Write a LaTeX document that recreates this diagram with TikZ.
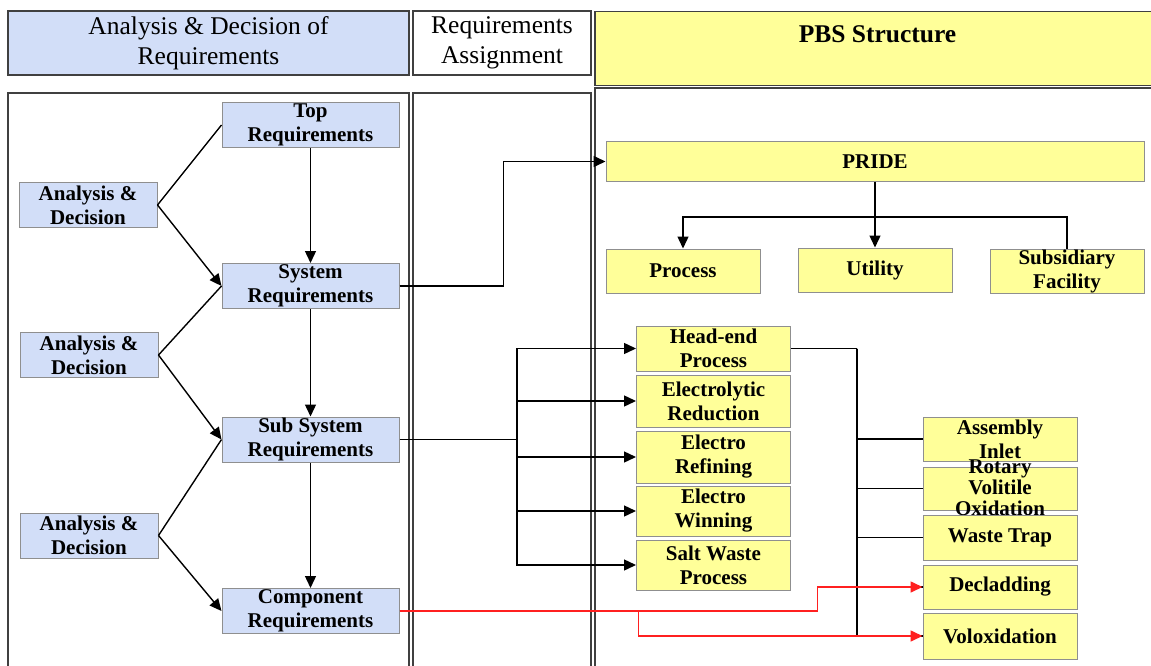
\documentclass[tikz,border=0pt]{standalone}
\usepackage{fontspec}
\setmainfont{Liberation Serif}
\usepackage{xcolor}
\definecolor{ReqBlue}{HTML}{D2DEF8}
\definecolor{PbsYellow}{HTML}{FFFF99}
\definecolor{BoxGray}{HTML}{8F8F8F}
\definecolor{HeadGray}{HTML}{404040}
\definecolor{LinkRed}{HTML}{FF2020}
\usetikzlibrary{arrows.meta}
\newcommand{\boxfont}{\fontsize{21}{24}\selectfont\bfseries}
\newcommand{\headfont}{\fontsize{25.5}{30}\selectfont}
\tikzset{
  headbox/.style={
    draw=HeadGray,
    line width=1.3pt,
    inner sep=0pt,
    align=center,
    font=\headfont
  },
  panelbox/.style={
    draw=HeadGray,
    line width=1.3pt
  },
  reqbox/.style={
    draw=BoxGray,
    fill=ReqBlue,
    line width=1pt,
    minimum width=177pt,
    minimum height=45pt,
    inner sep=0pt,
    align=center,
    font=\boxfont
  },
  adbox/.style={
    reqbox,
    minimum width=138pt
  },
  pbsbox/.style={
    draw=BoxGray,
    fill=PbsYellow,
    line width=1pt,
    minimum width=154pt,
    minimum height=44pt,
    inner sep=0pt,
    align=center,
    font=\boxfont
  },
  flowline/.style={
    draw=black,
    line width=1.4pt,
    -{Triangle[length=12pt,width=11pt]}
  },
  plainline/.style={
    draw=black,
    line width=1.4pt
  },
  redline/.style={
    draw=LinkRed,
    line width=1.6pt,
    -{Triangle[length=12pt,width=11pt]}
  }
}
\begin{document}
\begin{tikzpicture}[x=1pt,y=-1pt]
  \useasboundingbox (0,0) rectangle (1151,666);
  % column panels
  \draw[panelbox] (8,93) rectangle (409,680);
  \draw[panelbox] (413,93) rectangle (591,680);
  \draw[panelbox] (595,88) rectangle (1160,680);
  % headers
  \node[headbox, fill=ReqBlue, minimum width=401pt, minimum height=64pt] (anahead) at (208.5,43) {Analysis \& Decision of\\Requirements};
  \node[headbox, fill=white, minimum width=178pt, minimum height=64pt] (assignhead) at (502,43) {Requirements\\Assignment};
  \node[headbox, fill=PbsYellow, minimum width=565pt, anchor=north, text height=31pt, text depth=43pt, font=\headfont\bfseries] (pbshead) at (877.5,11) {PBS Structure};
  % requirement levels
  \node[reqbox] (topreq) at (310.5,125) {Top\\Requirements};
  \node[reqbox] (sysreq) at (310.5,286) {System\\Requirements};
  \node[reqbox] (subreq) at (310.5,439.5) {Sub System\\Requirements};
  \node[reqbox] (compreq) at (310.5,611) {Component\\Requirements};
  \node[adbox] (ad1) at (88,205) {Analysis \&\\Decision};
  \node[adbox] (ad2) at (89,355) {Analysis \&\\Decision};
  \node[adbox] (ad3) at (89,535.5) {Analysis \&\\Decision};
  % PBS tree
  \node[pbsbox, minimum width=538pt, minimum height=39pt] (pride) at (875,161.5) {PRIDE};
  \node[pbsbox] (process) at (683,271) {Process};
  \node[pbsbox] (utility) at (875,270) {Utility};
  \node[pbsbox] (subfac) at (1067,271) {Subsidiary\\Facility};
  \node[pbsbox, minimum height=45pt] (headend) at (713.5,348.5) {Head-end\\Process};
  \node[pbsbox, minimum height=52pt] (elecred) at (713.5,401) {Electrolytic\\Reduction};
  \node[pbsbox, minimum height=52pt] (elecref) at (713.5,457) {Electro\\Refining};
  \node[pbsbox, minimum height=50pt] (elecwin) at (713.5,511) {Electro\\Winning};
  \node[pbsbox, minimum height=50pt] (saltwaste) at (713.5,565) {Salt Waste\\Process};
  \node[pbsbox] (asminlet) at (1000,439) {Assembly\\Inlet};
  \node[pbsbox, minimum height=43pt] (rotvol) at (1000,488.5) {\def\arraystretch{0.88}\smash{\raisebox{-7pt}{\begin{tabular}{@{}c@{}}Rotary\\Volitile\\Oxidation\end{tabular}}}};
  \node[pbsbox, minimum height=45pt] (wastetrap) at (1000,537.5) {Waste Trap};
  \node[pbsbox] (declad) at (1000,587) {Decladding};
  \node[pbsbox, minimum height=46pt] (voloxi) at (1000,636) {Voloxidation};
  % requirement chain
  \foreach \upper/\lower in {topreq/sysreq,sysreq/subreq,subreq/compreq}
    \draw[flowline] (\upper) -- (\lower);
  \foreach \ad/\upper/\lower in {ad1/topreq/sysreq,ad2/sysreq/subreq,ad3/subreq/compreq}{
    \draw[plainline] (\ad.east) -- (\upper.west);
    \draw[flowline] (\ad.east) -- (\lower.west);
  }
  % assignment to PBS
  \draw[flowline] (sysreq.east) -- ++(104,0) |- (pride.west);
  \draw[flowline] (pride.south) -- (utility.north);
  \coordinate (treebar) at (875,217);
  \draw[flowline] (subfac.north) -- (subfac.north |- treebar) -| (process.north);
  \coordinate (subbus) at (517,439.5);
  \draw[plainline] (subreq.east) -- (subbus);
  \foreach \target in {headend,elecred,elecref,elecwin,saltwaste}
    \draw[flowline] (subbus) |- (\target.west);
  \coordinate (headbus) at (857,348.5);
  \draw[plainline] (headend.east) -- (headbus);
  \foreach \target in {asminlet,rotvol,wastetrap,declad,voloxi}
    \draw[plainline] (headbus) |- (\target.west);
  \draw[redline] (compreq.east) -- ++(418,0) |- (declad.west);
  \draw[redline] (compreq.east) -- ++(239,0) |- (voloxi.west);
\end{tikzpicture}
\end{document}
